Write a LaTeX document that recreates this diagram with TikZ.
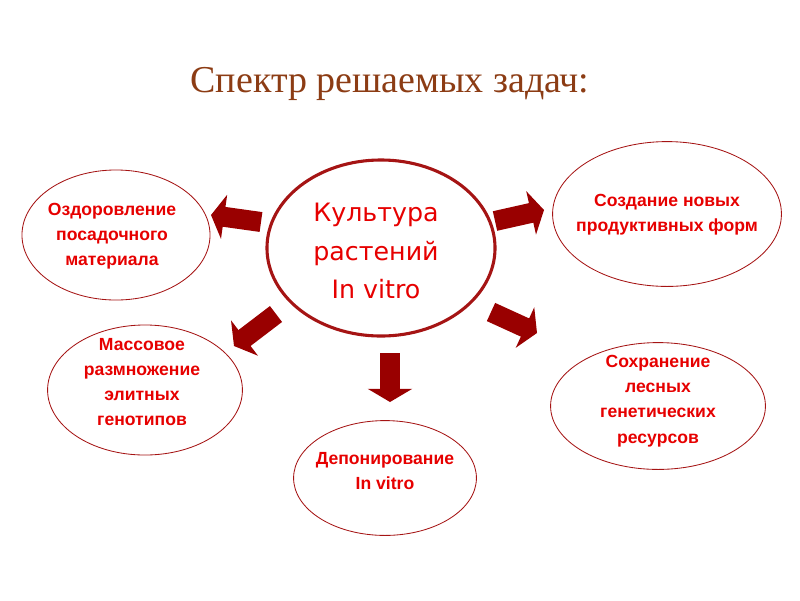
\documentclass[tikz,border=0pt]{standalone}
\usepackage{fontspec}
\setmainfont{Liberation Sans}
\newfontfamily\titlefont{Liberation Serif}
\newfontfamily\corefont{DejaVu Sans}
\usetikzlibrary{shapes.geometric, arrows.meta}

\definecolor{darkred}{RGB}{153,0,0}
\definecolor{rimred}{RGB}{165,20,20}
\definecolor{textred}{RGB}{230,0,0}
\definecolor{titlebrown}{RGB}{140,60,20}

\tikzset{
  bubble/.style={ellipse, draw=rimred, line width=0.6pt, inner sep=0pt},
  tasktext/.style={text=textred, font=\fontsize{12.5}{18}\selectfont\bfseries, align=center},
  blk/.style={draw=darkred, line width=0.5cm, -{Triangle[length=0.33cm, width=1.1cm]}},
}

\begin{document}
\begin{tikzpicture}[x=0.025cm, y=-0.025cm]
\useasboundingbox (0,0) rectangle (800,600);

% title
\node[text=titlebrown, font=\titlefont\fontsize{27}{32}\selectfont] (title) at (390,84) {Спектр решаемых задач:};

% central ellipse
\node[bubble, line width=2.2pt, minimum width=5.7cm, minimum height=4.4cm] (core) at (381,248) {};
\node[text=textred, font=\corefont\fontsize{18}{27.5}\selectfont, align=center] (coretext) at (376,251) {Культура\\растений\\In vitro};

% tasks
\node[bubble, minimum width=4.7cm, minimum height=3.25cm] (heal) at (116,235) {};
\node[tasktext] (healtext) at (112,236) {Оздоровление\\посадочного\\материала};

\node[bubble, minimum width=5.72cm, minimum height=3.62cm] (forms) at (667,214) {};
\node[tasktext] (formstext) at (667,215) {Создание новых\\продуктивных форм};

\node[bubble, minimum width=4.87cm, minimum height=3.25cm] (mass) at (145,390) {};
\node[tasktext] (masstext) at (142,382) {Массовое\\размножение\\элитных\\генотипов};

\node[bubble, minimum width=5.37cm, minimum height=3.17cm] (keep) at (658,406) {};
\node[tasktext] (keeptext) at (658,401) {Сохранение\\лесных\\генетических\\ресурсов};

\node[bubble, minimum width=4.57cm, minimum height=2.87cm] (depo) at (385,478) {};
\node[tasktext] (depotext) at (385,471) {Депонирование\\In vitro};

% arrow ends
\coordinate (healS) at (261,222);
\coordinate (healE) at (211,215);
\coordinate (formsS) at (495,221);
\coordinate (formsE) at (544,210);
\coordinate (massS) at (276,314);
\coordinate (massE) at (234,346);
\coordinate (keepS) at (491,312);
\coordinate (keepE) at (537,333);
\coordinate (depoS) at (390,353);
\coordinate (depoE) at (390,402);

% arrows
\draw[blk] (healS) -- (healE);
\draw[blk] (formsS) -- (formsE);
\draw[blk] (massS) -- (massE);
\draw[blk] (keepS) -- (keepE);
\draw[blk] (depoS) -- (depoE);
\end{tikzpicture}
\end{document}
